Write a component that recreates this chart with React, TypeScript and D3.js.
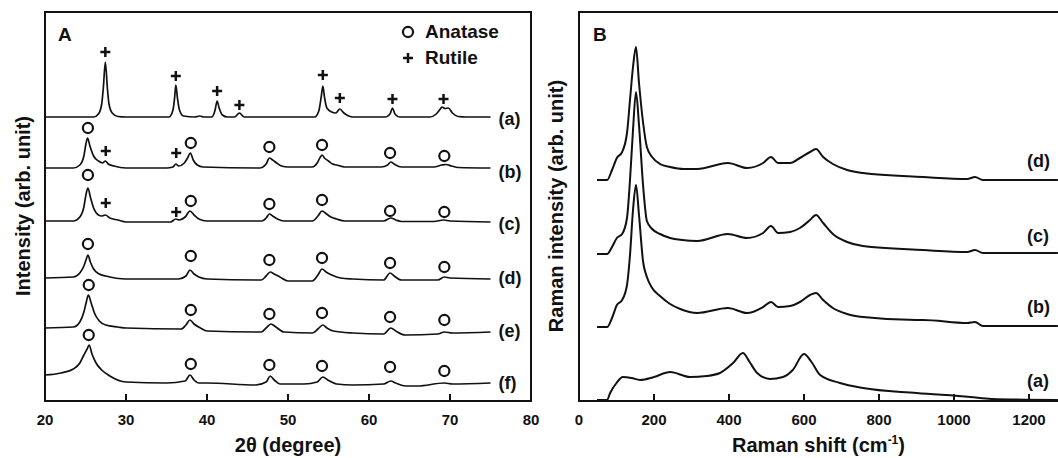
import React from 'react';
import * as d3 from 'd3';

type P = [number, number];

// ---------- Panel A: XRD (2θ, arbitrary intensity incl. vertical offset) ----------
const xrdTicks = [20, 30, 40, 50, 60, 70, 80];

const xrdA: P[] = [
  [20, 284], [26.0, 284], [26.6, 287], [27.0, 297], [27.2, 313], [27.45, 339], [27.7, 313], [27.9, 297],
  [28.3, 288], [29, 284.5], [30, 284], [35.3, 284], [35.8, 291], [36.0, 303], [36.15, 316], [36.35, 303],
  [36.6, 291], [37.1, 285], [38.5, 284], [39.1, 285], [39.6, 284], [40.6, 284], [41.0, 291], [41.25, 300],
  [41.5, 293], [41.9, 286], [42.5, 284], [43.4, 284], [44.0, 288], [44.6, 284], [53.3, 284], [53.8, 290],
  [54.1, 304], [54.3, 315], [54.5, 304], [54.8, 293], [55.4, 289], [55.9, 288], [56.4, 292], [56.9, 288],
  [57.5, 285], [58, 284], [62.0, 284], [62.6, 287], [62.9, 293], [63.2, 287], [63.8, 284], [67.5, 284],
  [68.3, 287], [68.8, 292], [69.0, 294], [69.4, 292.5], [69.8, 293], [70.3, 288], [71.0, 284.5], [72, 284], [75, 284],
];
const xrdB: P[] = [
  [20, 233], [23.5, 233], [24.3, 236], [24.8, 245], [25.05, 257], [25.25, 263], [25.55, 255], [26.0, 245],
  [26.6, 240], [27.1, 238], [27.45, 240], [27.8, 237], [28.5, 235], [30, 233], [35, 233], [35.8, 234],
  [36.15, 237], [36.5, 235], [37.2, 238], [37.6, 243], [37.95, 248], [38.3, 241], [38.8, 236], [39.5, 234],
  [46.5, 233], [47.3, 237], [47.7, 243], [48.1, 241], [48.6, 238], [49.2, 235], [50, 234], [53, 234],
  [53.6, 238], [54.0, 244], [54.2, 246], [54.5, 243], [55.0, 240], [55.5, 237], [56, 236], [57, 234],
  [61.5, 234], [62.3, 236], [62.7, 239], [63.1, 237], [64, 234], [68, 234], [69.0, 236], [69.5, 236.5],
  [70.2, 235], [71, 233.5], [75, 233],
];
const xrdC: P[] = [
  [20, 180], [23.5, 180], [24.3, 184], [24.8, 194], [25.1, 208], [25.3, 213], [25.6, 204], [26.0, 193],
  [26.6, 186], [27.0, 185], [27.45, 186], [28, 183], [29, 181], [30, 179], [35.5, 179], [36.15, 182],
  [36.6, 181], [37.3, 184], [37.9, 190], [38.4, 186], [39, 182], [40, 180], [46.8, 180], [47.3, 183],
  [47.7, 187], [48.1, 185], [48.7, 182], [49.5, 180], [53, 180], [53.7, 185], [54.2, 190], [54.6, 188],
  [55.3, 184], [56, 182], [57, 180], [61.8, 180], [62.7, 183], [63.3, 181], [64, 179.5], [68, 179.5],
  [69.2, 181], [70, 180], [75, 179],
];
const xrdD: P[] = [
  [20, 123], [23.5, 124], [24.3, 128], [24.8, 135], [25.1, 142], [25.3, 146], [25.6, 139], [26.0, 132],
  [26.7, 127], [27.5, 125], [30, 122], [36.5, 122], [37.4, 125], [37.9, 131], [38.4, 127], [39, 124],
  [40, 122], [46.7, 121], [47.3, 125], [47.8, 129], [48.3, 127], [49, 124], [50, 120], [53, 120],
  [53.7, 126], [54.2, 132], [54.7, 129], [55.4, 126], [56.5, 123], [58, 122], [61.8, 121], [62.6, 128],
  [63.1, 125], [64, 121], [68.5, 121], [69.3, 124], [70, 123], [75, 122],
];
const xrdE: P[] = [
  [20, 73], [23.5, 74], [24.3, 79], [24.8, 89], [25.1, 99], [25.35, 106], [25.7, 98], [26.1, 88],
  [26.7, 80], [27.5, 76], [29, 74], [30, 73], [36.8, 72], [37.4, 76], [37.9, 81], [38.4, 77], [39.2, 73],
  [40, 70], [46.7, 69], [47.3, 73], [47.9, 77], [48.5, 74], [49.5, 69], [53, 68], [53.7, 72], [54.3, 76],
  [54.8, 73], [55.6, 70], [58, 68], [61.8, 67], [62.7, 73], [63.3, 70], [64.5, 66], [68.5, 67], [69.3, 69],
  [70.3, 68], [75, 69],
];
const xrdF: P[] = [
  [20, 26], [22, 28], [23.5, 32], [24.3, 38], [24.8, 46], [25.2, 52], [25.45, 56], [25.8, 47], [26.3, 38],
  [27, 31], [28, 25], [30, 19], [35, 18], [37.3, 20], [37.9, 26], [38.4, 21], [39, 18], [40, 18], [46, 16],
  [47.3, 19], [47.8, 25], [48.3, 21], [49, 17], [52, 17], [53.6, 19], [54.3, 24], [54.9, 21], [56, 17],
  [58, 16], [61.8, 17], [62.7, 20], [63.3, 18], [64.5, 15], [66, 15], [69.3, 18], [70.3, 17], [75, 18],
];
const xrdSeries = [xrdA, xrdB, xrdC, xrdD, xrdE, xrdF];
const xrdLabels = ['(a)', '(b)', '(c)', '(d)', '(e)', '(f)'];
const xrdLabelLevels = [282, 229, 177, 123, 70, 18];

// peak markers: [2θ, level]
const anatasePeaks: P[] = [
  [25.3, 273], [38.0, 258], [47.7, 254], [54.2, 256], [62.6, 248], [69.3, 245],
  [25.3, 226], [38.0, 200], [47.7, 197], [54.2, 201], [62.6, 190], [69.3, 189],
  [25.3, 157], [38.0, 145], [47.7, 141], [54.2, 143], [62.6, 138], [69.3, 134],
  [25.4, 116], [38.0, 91], [47.7, 87], [54.2, 88], [62.6, 84], [69.3, 81],
  [25.4, 66], [38.0, 37], [47.7, 36], [54.2, 35], [62.6, 34], [69.3, 30],
];
const rutilePeaks: P[] = [
  [27.45, 349], [36.15, 325], [41.25, 310], [44.0, 296], [54.3, 326], [56.4, 303], [62.9, 302], [69.2, 302],
  [27.5, 250], [36.2, 248],
  [27.5, 198], [36.2, 189],
];

// ---------- Panel B: Raman ----------
const ramanTicks = [0, 200, 400, 600, 800, 1000, 1200];

const ramanD: P[] = [
  [48, 221], [75, 221], [88, 231], [101, 243], [115, 249], [128, 268], [136, 301], [144, 334], [152, 354],
  [160, 318], [171, 278], [181, 254], [195, 244], [216, 237], [243, 234], [280, 232], [315, 232], [397, 238],
  [448, 233], [491, 238], [512, 244], [531, 238], [563, 238], [589, 243], [616, 249], [632, 252],
  [651, 244], [677, 237], [715, 231], [757, 228], [917, 224], [1035, 222], [1056, 224], [1077, 221], [1277, 221],
];
const ramanC: P[] = [
  [48, 147], [75, 147], [88, 154], [101, 163], [115, 167], [128, 183], [136, 221], [144, 271], [152, 309],
  [160, 276], [171, 215], [181, 180], [195, 172], [216, 167], [243, 163], [275, 161], [315, 160], [397, 167],
  [448, 163], [491, 168], [512, 175], [531, 168], [563, 169], [589, 173], [616, 181], [632, 186],
  [651, 178], [677, 167], [715, 159], [757, 155], [917, 151], [1035, 149], [1056, 151], [1077, 148], [1277, 148],
];
const ramanB: P[] = [
  [48, 74], [75, 74], [88, 83], [101, 96], [115, 101], [128, 116], [136, 146], [144, 191], [152, 216],
  [160, 186], [171, 139], [181, 124], [195, 113], [216, 105], [243, 97], [270, 92], [315, 88], [397, 93],
  [448, 88], [491, 94], [512, 99], [531, 94], [563, 95], [589, 99], [616, 106], [632, 108], [651, 101],
  [677, 93], [715, 87], [757, 84], [900, 81], [917, 81], [1035, 78], [1056, 79], [1077, 75], [1277, 75],
];
const ramanA: P[] = [
  [48, 1], [75, 1], [83, 8], [100, 18], [117, 24], [140, 23], [163, 21], [200, 24], [243, 29], [296, 24],
  [340, 25], [376, 28], [411, 38], [437, 48], [455, 39], [475, 28], [509, 22], [544, 24], [570, 31],
  [600, 47], [620, 39], [643, 26], [696, 18], [757, 13], [900, 8], [1043, 4], [1100, 2], [1277, 1],
];
const ramanSeries = [ramanA, ramanB, ramanC, ramanD];
const ramanLabels = ['(a)', '(b)', '(c)', '(d)'];
const ramanLabelLevels = [20, 94, 165, 240];

const FONT = "'Liberation Sans', Arial, Helvetica, sans-serif";

export default function App() {
  const W = 1058, H = 458;
  const top = 12, bottom = 401;
  const ax = { l: 45, r: 531 };
  const bx = { l: 579, r: 579 + 1300 * 0.375 };

  const xA = d3.scaleLinear().domain([20, 80]).range([ax.l, ax.r]);
  const xB = d3.scaleLinear().domain([0, 1300]).range([bx.l, bx.r]);
  const y = d3.scaleLinear().domain([0, 389]).range([bottom, top]);

  const lineA = d3.line<P>().x(d => xA(d[0])).y(d => y(d[1])).curve(d3.curveMonotoneX);
  const lineB = d3.line<P>().x(d => xB(d[0])).y(d => y(d[1])).curve(d3.curveMonotoneX);

  const circlePath = d3.symbol(d3.symbolCircle, 80)() as string;
  const plusPath = 'M-5,0H5M0,-5V5';

  return (
    <svg width={W} height={H} style={{ position: 'absolute', left: 0, top: 0, background: '#fff' }}
      fontFamily={FONT} fontWeight="bold">
      <rect x={0} y={0} width={W} height={H} fill="#fff" />
      {/* ---------- Panel A ---------- */}
      <g>
        {xrdSeries.map((s, i) => (
          <path key={i} d={lineA(s) as string} fill="none" stroke="#111" strokeWidth={1.7} strokeLinejoin="round" />
        ))}
        {anatasePeaks.map((p, i) => (
          <path key={'o' + i} d={circlePath} transform={`translate(${xA(p[0])},${y(p[1])})`}
            fill="none" stroke="#111" strokeWidth={2.2} />
        ))}
        {rutilePeaks.map((p, i) => (
          <path key={'p' + i} d={plusPath} transform={`translate(${xA(p[0])},${y(p[1])})`}
            fill="none" stroke="#111" strokeWidth={2.5} />
        ))}
        {xrdLabels.map((t, i) => (
          <text key={t} x={xA(75) + 8} y={y(xrdLabelLevels[i])} dy="0.35em" fontSize={18} fill="#111">{t}</text>
        ))}
        {xrdTicks.map(t => (
          <g key={t}>
            <line x1={xA(t)} x2={xA(t)} y1={bottom} y2={bottom - 7} stroke="#111" strokeWidth={2} />
            <text x={xA(t)} y={425} textAnchor="middle" fontSize={15} fill="#111">{t}</text>
          </g>
        ))}
        <rect x={ax.l} y={top} width={ax.r - ax.l} height={bottom - top} fill="none" stroke="#111" strokeWidth={2} />
        <text x={58} y={41} fontSize={19} fill="#111">A</text>
        {/* legend */}
        <path d={circlePath} transform="translate(408,32)" fill="none" stroke="#111" strokeWidth={2.2} />
        <text x={425} y={38} fontSize={19} fill="#111">Anatase</text>
        <path d={plusPath} transform="translate(408,58)" fill="none" stroke="#111" strokeWidth={2.5} />
        <text x={425} y={64} fontSize={19} fill="#111">Rutile</text>
        <text x={(ax.l + ax.r) / 2} y={452} textAnchor="middle" fontSize={20} fill="#111">2θ (degree)</text>
        <text transform={`translate(30,206) rotate(-90)`} textAnchor="middle" fontSize={20} fill="#111">Intensity (arb. unit)</text>
      </g>

      {/* ---------- Panel B ---------- */}
      <g>
        {ramanSeries.map((s, i) => (
          <path key={i} d={lineB(s) as string} fill="none" stroke="#111" strokeWidth={2} strokeLinejoin="round" />
        ))}
        {ramanLabels.map((t, i) => (
          <text key={t} x={1027} y={y(ramanLabelLevels[i])} dy="0.35em" fontSize={18} fill="#111">{t}</text>
        ))}
        {ramanTicks.map(t => (
          <g key={t}>
            {t > 0 && <line x1={xB(t)} x2={xB(t)} y1={bottom} y2={bottom - 7} stroke="#111" strokeWidth={2} />}
            <text x={xB(t)} y={425} textAnchor="middle" fontSize={15} fill="#111">{t}</text>
          </g>
        ))}
        <rect x={bx.l} y={top} width={bx.r - bx.l} height={bottom - top} fill="none" stroke="#111" strokeWidth={2} />
        <text x={593} y={41} fontSize={19} fill="#111">B</text>
        <text x={(bx.l + W) / 2} y={452} textAnchor="middle" fontSize={20} fill="#111">
          Raman shift (cm<tspan fontSize={12} dy={-8}>-1</tspan><tspan dy={8}>)</tspan>
        </text>
        <text transform={`translate(563,206) rotate(-90)`} textAnchor="middle" fontSize={20} fill="#111">Raman intensity (arb. unit)</text>
      </g>
    </svg>
  );
}
